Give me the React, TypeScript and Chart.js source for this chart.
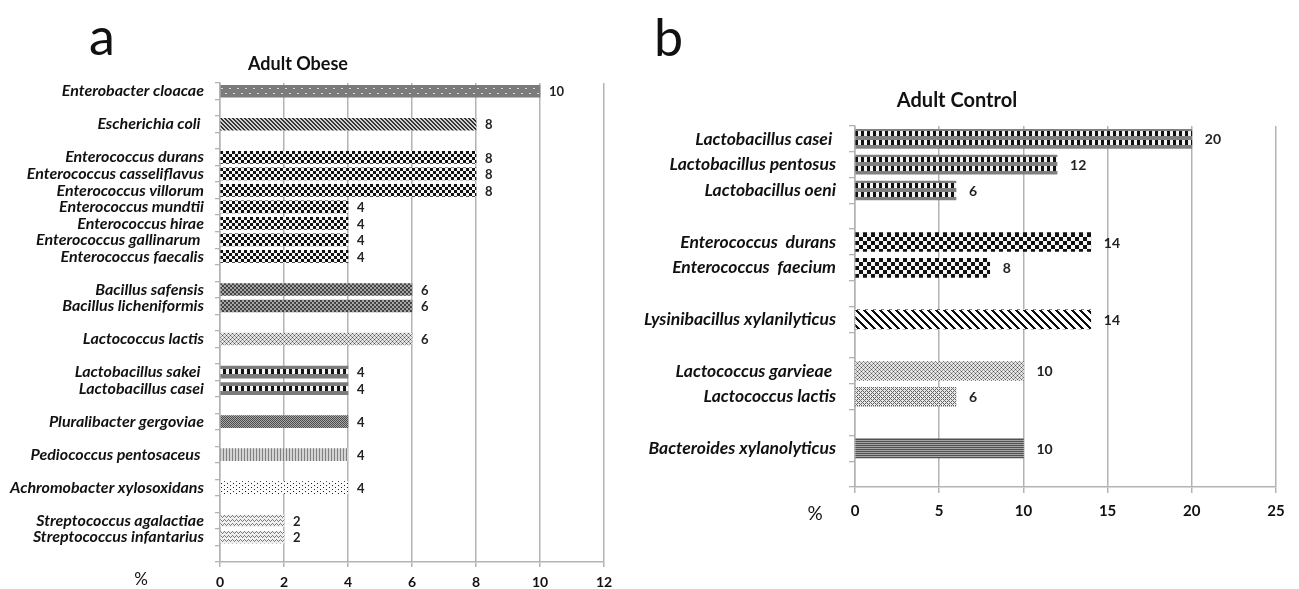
import React, { useEffect, useRef } from 'react';
import { Chart, registerables } from 'chart.js';

Chart.register(...registerables);

// ---------- DATA ----------
// Panel a – Adult Obese ('' entries are the empty spacer rows between genera)
const obeseCategories = [
  'Enterobacter cloacae', '',
  'Escherichia coli ', '',
  'Enterococcus durans', 'Enterococcus casseliflavus', 'Enterococcus villorum', 'Enterococcus mundtii',
  'Enterococcus hirae', 'Enterococcus gallinarum ', 'Enterococcus faecalis', '',
  'Bacillus safensis', 'Bacillus licheniformis', '',
  'Lactococcus lactis', '',
  'Lactobacillus sakei ', 'Lactobacillus casei', '',
  'Pluralibacter gergoviae', '',
  'Pediococcus pentosaceus ', '',
  'Achromobacter xylosoxidans', '',
  'Streptococcus agalactiae', 'Streptococcus infantarius', '',
];
const obeseValues: (number | null)[] = [
  10, null,
  8, null,
  8, 8, 8, 4,
  4, 4, 4, null,
  6, 6, null,
  6, null,
  4, 4, null,
  4, null,
  4, null,
  4, null,
  2, 2, null,
];
const obeseTicks = [0, 2, 4, 6, 8, 10, 12];

// Panel b – Adult Control
const controlCategories = [
  'Lactobacillus casei ', 'Lactobacillus pentosus', 'Lactobacillus oeni', '',
  'Enterococcus  durans', 'Enterococcus  faecium', '',
  'Lysinibacillus xylanilyticus', '',
  'Lactococcus garvieae ', 'Lactococcus lactis', '',
  'Bacteroides xylanolyticus', '',
];
const controlValues: (number | null)[] = [
  20, 12, 6, null,
  14, 8, null,
  14, null,
  10, 6, null,
  10, null,
];
const controlTicks = [0, 5, 10, 15, 20, 25];

// ---------- STYLES (fill patterns per row) ----------
const obeseFills = [
  'grayDots', '',
  'fineDiag', '',
  'checker3', 'checker3', 'checker3', 'checker3', 'checker3', 'checker3', 'checker3', '',
  'smallChecker', 'smallChecker', '',
  'confetti', '',
  'lactoRow', 'lactoRow', '',
  'grayGrid', '',
  'vertLines', '',
  'sparseDots', '',
  'wave', 'wave', '',
];
const controlFills = [
  'lactoRows', 'lactoRows', 'lactoRows', '',
  'checker4', 'checker4', '',
  'wideDiag', '',
  'confetti', 'confettiB', '',
  'hLines', '',
];

type Tile = { w: number; px: (x: number, y: number) => string };
const mod = (a: number, n: number) => ((a % n) + n) % n;

const TILES: Record<string, Tile> = {
  grayDots: {
    w: 8,
    px: (x, y) =>
      (y === 3 && (x === 1 || x === 2)) || (y === 8 && (x === 5 || x === 6)) ? '#d9d9d9' : '#7b7b7b',
  },
  fineDiag: { w: 4, px: (x, y) => (mod(x - y, 4) < 2 ? '#333333' : '#d2d2d2') },
  checker3: { w: 6, px: (x, y) => ((Math.floor(x / 3) + Math.floor(y / 3)) % 2 ? '#f5f5f5' : '#111111') },
  checker4: { w: 8, px: (x, y) => ((Math.floor(x / 4) + Math.floor(y / 4)) % 2 ? '#f5f5f5' : '#111111') },
  smallChecker: { w: 4, px: (x, y) => ((Math.floor(x / 2) + Math.floor(y / 2)) % 2 ? '#a5a5a5' : '#434343') },
  grayGrid: { w: 2, px: (x, y) => ((x + y) % 2 ? '#a8a8a8' : '#4c4c4c') },
  confetti: {
    w: 4,
    px: (x, y) => {
      if (y % 2 === 0 && x === (Math.floor(y / 2) % 2) * 2) return '#505050';
      if (y % 2 === 1 && x % 2 === 1) return '#9a9a9a';
      return '#e4e4e4';
    },
  },
  confettiB: {
    w: 4,
    px: (x, y) => {
      if (y % 2 === 0 && x % 2 === 0) return '#606060';
      if (y % 2 === 1 && x === (Math.floor(y / 2) % 2) * 2 + 1) return '#707070';
      return '#e8e8e8';
    },
  },
  lactoRow: {
    w: 6,
    px: (x, y) => (y >= 3 && y < 8 ? (x < 3 ? '#f4f4f4' : '#141414') : '#7c7c7c'),
  },
  lactoRows: {
    w: 6,
    px: (x, y) =>
      (y >= 2 && y < 7) || (y >= 11 && y < 16) ? (x < 3 ? '#111111' : '#f2f2f2') : '#808080',
  },
  vertLines: { w: 3, px: (x) => (x === 0 ? '#808080' : '#d4d4d4') },
  sparseDots: {
    w: 6,
    px: (x, y) => ((x === 1 && y % 4 === 1) || (x === 4 && y % 4 === 3) ? '#1e1e1e' : '#fbfbfb'),
  },
  wave: {
    w: 4,
    px: (x, y) => {
      const off = [0, 1, 2, 1][x];
      return mod(y - off, 4) === 0 ? '#7d7d7d' : '#efefef';
    },
  },
  wideDiag: { w: 8, px: (x, y) => (mod(x - y, 8) < 3 ? '#0e0e0e' : '#ffffff') },
  hLines: { w: 1, px: (_x, y) => (y % 2 === 0 ? '#505050' : '#a5a5a5') },
};

const tileCache = new Map<string, HTMLCanvasElement>();
function getTile(kind: string, h: number): HTMLCanvasElement {
  const key = kind + ':' + h;
  const hit = tileCache.get(key);
  if (hit) return hit;
  const spec = TILES[kind];
  const c = document.createElement('canvas');
  c.width = spec.w;
  c.height = h;
  const g = c.getContext('2d')!;
  for (let y = 0; y < h; y++) {
    for (let x = 0; x < spec.w; x++) {
      g.fillStyle = spec.px(x, y);
      g.fillRect(x, y, 1, 1);
    }
  }
  tileCache.set(key, c);
  return c;
}

function patternFill(fills: string[], thickness: number) {
  return (ctx: any) => {
    if (ctx.type !== 'data') return '#808080';
    const kind = fills[ctx.dataIndex];
    if (!kind) return 'rgba(0,0,0,0)';
    const chart = ctx.chart;
    const ys = chart.scales && chart.scales.y;
    const xs = chart.scales && chart.scales.x;
    if (!ys || !xs) return '#808080';
    const yc = ys.getPixelForValue(ctx.dataIndex);
    const top = Math.round(yc - thickness / 2);
    const left = Math.round(xs.getPixelForValue(0));
    const pat = chart.ctx.createPattern(getTile(kind, thickness), 'repeat');
    if (!pat) return '#808080';
    pat.setTransform(new DOMMatrix([1, 0, 0, 1, left, top]));
    return pat;
  };
}

type PanelProps = {
  categories: string[];
  values: (number | null)[];
  ticks: number[];
  fills: string[];
  left: number;
  width: number;
  height: number;
  padTop: number;
  padRight: number;
  yWidth: number;
  xHeight: number;
  thickness: number;
  catFontSize: number;
  catPadding: number;
  tickFontSize: number;
  tickPadding: number;
  tickLen: number;
  valueFontSize: number;
  valueOffset: number;
};

const GRID = '#b3b3b3';

function BarPanel(p: PanelProps) {
  const ref = useRef<HTMLCanvasElement | null>(null);
  useEffect(() => {
    if (!ref.current) return;
    const valueLabels = {
      id: 'valueLabels',
      afterDatasetsDraw(chart: any) {
        const g = chart.ctx;
        const meta = chart.getDatasetMeta(0);
        const data = chart.data.datasets[0].data;
        g.save();
        g.font = `bold ${p.valueFontSize}px Lato`;
        g.fillStyle = '#222222';
        g.textAlign = 'left';
        g.textBaseline = 'middle';
        meta.data.forEach((el: any, i: number) => {
          const v = data[i];
          if (v == null) return;
          g.fillText(String(v), el.x + p.valueOffset, el.y + 1);
        });
        g.restore();
      },
    };
    const chart = new Chart(ref.current, {
      type: 'bar',
      data: {
        labels: p.categories,
        datasets: [
          {
            data: p.values as any,
            backgroundColor: patternFill(p.fills, p.thickness) as any,
            borderWidth: 0,
            barThickness: p.thickness,
          },
        ],
      },
      options: {
        indexAxis: 'y',
        responsive: false,
        animation: false,
        devicePixelRatio: 1,
        layout: { padding: { top: p.padTop, right: p.padRight, left: 0, bottom: 0 } },
        plugins: {
          legend: { display: false },
          tooltip: { enabled: false },
          title: { display: false },
        },
        scales: {
          y: {
            type: 'category',
            offset: true,
            afterFit: (s: any) => {
              s.width = p.yWidth;
            },
            grid: {
              offset: true,
              drawOnChartArea: false,
              drawTicks: true,
              tickLength: p.tickLen,
              color: GRID,
              lineWidth: 1.3,
            },
            border: { display: true, color: GRID, width: 1.5 },
            ticks: {
              autoSkip: false,
              padding: p.catPadding,
              color: '#111111',
              font: { family: 'Lato', size: p.catFontSize, style: 'italic', weight: 'bold' },
            },
          },
          x: {
            type: 'linear',
            min: p.ticks[0],
            max: p.ticks[p.ticks.length - 1],
            afterFit: (s: any) => {
              s.height = p.xHeight;
            },
            grid: { color: GRID, lineWidth: 1.5, drawTicks: true, tickLength: p.tickLen },
            border: { display: true, color: GRID, width: 1.5 },
            ticks: {
              stepSize: p.ticks[1] - p.ticks[0],
              padding: p.tickPadding,
              color: '#111111',
              font: { family: 'Lato', size: p.tickFontSize, weight: 'bold' },
            },
          },
        },
      } as any,
      plugins: [valueLabels],
    });
    return () => chart.destroy();
  }, []);
  return (
    <canvas
      ref={ref}
      width={p.width}
      height={p.height}
      style={{ position: 'absolute', left: p.left, top: 0, width: p.width, height: p.height }}
    />
  );
}

export default function App() {
  return (
    <div
      style={{
        position: 'absolute',
        left: 0,
        top: 0,
        width: 1299,
        height: 589,
        background: '#ffffff',
        overflow: 'hidden',
        fontFamily: 'Lato, sans-serif',
        color: '#111',
      }}
    >
      <BarPanel
        categories={obeseCategories}
        values={obeseValues}
        ticks={obeseTicks}
        fills={obeseFills}
        left={0}
        width={640}
        height={589}
        padTop={83}
        padRight={36}
        yWidth={220}
        xHeight={27}
        thickness={12}
        catFontSize={16}
        catPadding={11}
        tickFontSize={14}
        tickPadding={7}
        tickLen={5}
        valueFontSize={13}
        valueOffset={9}
      />
      <BarPanel
        categories={controlCategories}
        values={controlValues}
        ticks={controlTicks}
        fills={controlFills}
        left={640}
        width={659}
        height={589}
        padTop={126}
        padRight={23}
        yWidth={215}
        xHeight={102}
        thickness={19}
        catFontSize={17.5}
        catPadding={13}
        tickFontSize={15}
        tickPadding={9}
        tickLen={6}
        valueFontSize={14}
        valueOffset={13}
      />
      <div style={{ position: 'absolute', left: 89, top: 9, fontSize: 52, lineHeight: '52px' }}>a</div>
      <div style={{ position: 'absolute', left: 654, top: 10, fontSize: 52, lineHeight: '52px' }}>b</div>
      <div
        style={{
          position: 'absolute',
          left: 198,
          top: 54,
          width: 200,
          textAlign: 'center',
          fontSize: 18,
          lineHeight: '18px',
          fontWeight: 'bold',
        }}
      >
        Adult Obese
      </div>
      <div
        style={{
          position: 'absolute',
          left: 857,
          top: 89,
          width: 200,
          textAlign: 'center',
          fontSize: 20,
          lineHeight: '20px',
          fontWeight: 'bold',
        }}
      >
        Adult Control
      </div>
      <div
        style={{
          position: 'absolute',
          left: 121,
          top: 570,
          width: 40,
          textAlign: 'center',
          fontSize: 17,
          lineHeight: '17px',
        }}
      >
        %
      </div>
      <div
        style={{
          position: 'absolute',
          left: 795,
          top: 503,
          width: 40,
          textAlign: 'center',
          fontSize: 19,
          lineHeight: '19px',
        }}
      >
        %
      </div>
    </div>
  );
}
